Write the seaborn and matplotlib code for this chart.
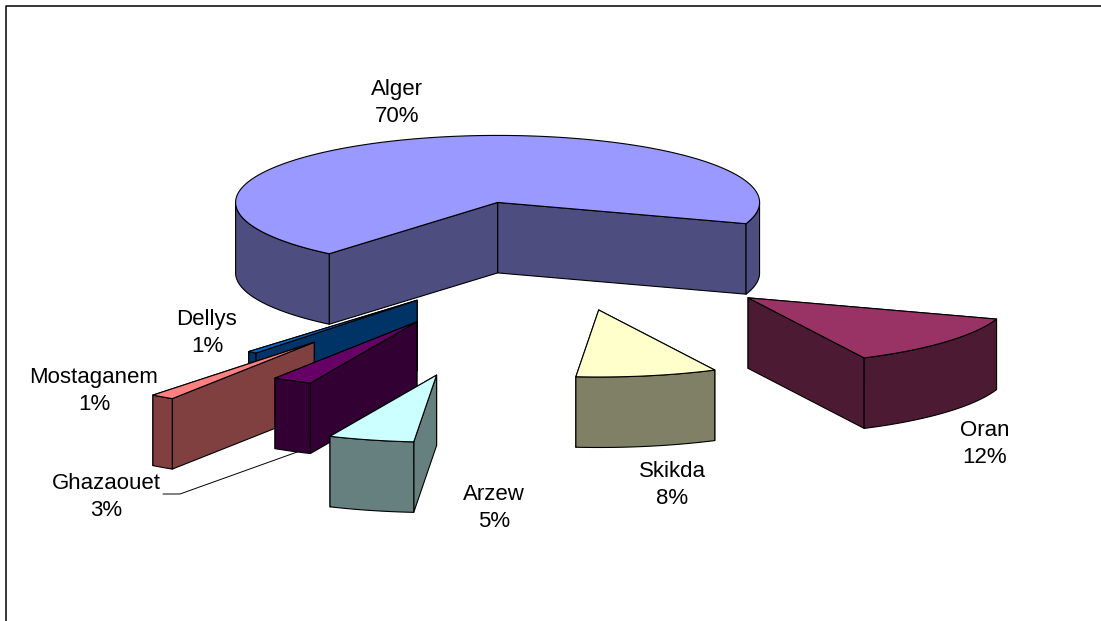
import numpy as np
import matplotlib
matplotlib.use("Agg")
import matplotlib.pyplot as plt
from matplotlib.patches import Polygon
import seaborn as sns

# --- data ---
cities = ["Alger", "Oran", "Skikda", "Arzew", "Ghazaouet", "Mostaganem", "Dellys"]
shares = [70, 12, 8, 5, 3, 1, 1]
top_colors = ["#9999FF", "#993366", "#FFFFCC", "#CCFFFF", "#660066", "#FF8080", "#0066CC"]

# --- style / layout of the 3D exploded pie ---
explode = [0.80, 0.95, 0.82, 1.79, 1.10, 1.58, 0.83]
edge_nudge = [-1.5, -3.5, -6, -7, -5, -6.6, -5]     # foreshortening of the 3D view, degrees
view_shift = [(0.5, -3), (6.5, -1), (5, -1), (0, 2), (0, 0), (0, -1), (0, 0)]
first_edge = -17.0 + 252.0
cx, cy, rx, ry, depth = 554.0, 257.0, 262.0, 67.0, 70.5
draw_order = [6, 0, 1, 2, 5, 4, 3]
label_pos = [(397, 103), (985, 444), (672, 485), (494, 508), (106, 497), (94, 391), (207, 333)]

sns.set_theme(style="white")
plt.rcParams["font.family"] = ["Liberation Sans", "DejaVu Sans"]
palette = sns.color_palette(top_colors)
sides = [tuple(c * 0.5 for c in col) for col in palette]

fig = plt.figure(figsize=(11.01, 6.21), dpi=100, facecolor="white")
ax = fig.add_axes([0, 0, 1, 1])
ax.set_xlim(0, 1101)
ax.set_ylim(621, 0)
ax.axis("off")

# chart frame: only the top and left rules fall inside the picture
ax.plot([6, 6, 1101], [621, 6, 6], color="black", lw=1.1, zorder=1, solid_capstyle="butt")

ends = first_edge - np.cumsum(shares) / sum(shares) * 360.0
starts = np.r_[first_edge, ends[:-1]]
LW = 0.8


def pt(theta, ox, oy, r=1.0):
    return ox + rx * r * np.cos(np.radians(theta)), oy - ry * r * np.sin(np.radians(theta))


z = 2
for i in draw_order:
    if cities[i] == "Ghazaouet":
        # leader line passes below this slice
        ax.plot([300, 180, 163], [451, 494, 494], color="black", lw=0.7, zorder=z)
        z += 1
    a0 = starts[i] + edge_nudge[i - 1]
    a1 = ends[i] + edge_nudge[i]
    bis = (a0 + a1) / 2
    ox, oy = pt(bis, cx, cy, explode[i])
    ox += view_shift[i][0]
    oy += view_shift[i][1]

    ts = np.linspace(a0, a1, 200)
    xs, ys = pt(ts, ox, oy)

    e0 = (xs[0], ys[0])
    e1 = (xs[-1], ys[-1])
    walls = []
    for e in (e0, e1):
        walls.append([(ox, oy), e, (e[0], e[1] + depth), (ox, oy + depth)])
    walls.sort(key=lambda q: np.mean([p[1] for p in q]))
    for q in walls:
        ax.add_patch(Polygon(q, closed=True, fc=sides[i], ec="black", lw=LW, zorder=z, joinstyle="round"))
        z += 1

    front = np.sin(np.radians(ts)) <= 0
    idx = np.flatnonzero(front)
    if idx.size:
        for seg in np.split(idx, np.flatnonzero(np.diff(idx) > 1) + 1):
            up = np.c_[xs[seg], ys[seg]]
            dn = up[::-1] + np.array([0, depth])
            ax.add_patch(Polygon(np.r_[up, dn], closed=True, fc=sides[i], ec="black", lw=LW, zorder=z, joinstyle="round"))
            z += 1

    ax.add_patch(Polygon(np.r_[[[ox, oy]], np.c_[xs, ys]], closed=True, fc=palette[i], ec="black", lw=LW, zorder=z, joinstyle="round"))
    z += 1

for name, share, (lx, ly) in zip(cities, shares, label_pos):
    ax.text(lx, ly, f"{name}\n{share}%", ha="center", va="center", fontsize=16,
            color="black", linespacing=1.38, zorder=z)

fig.savefig("out.png", dpi=100, facecolor="white")
